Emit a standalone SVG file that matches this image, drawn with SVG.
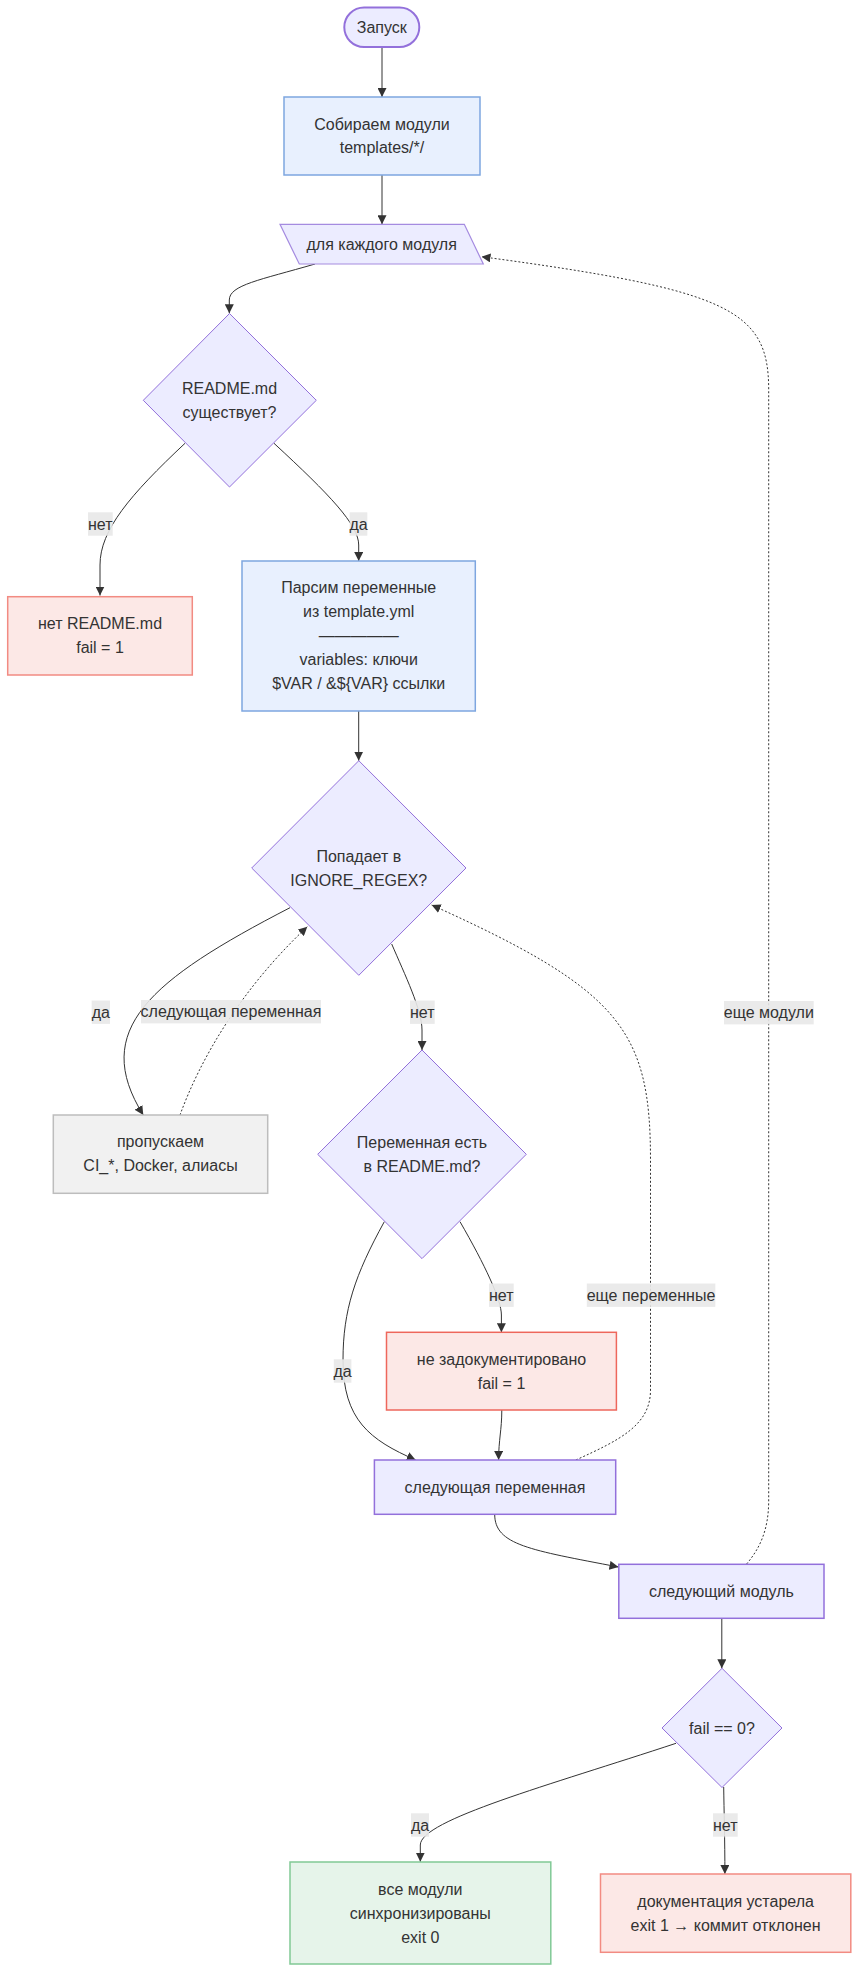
<svg xmlns="http://www.w3.org/2000/svg" width="858" height="1972" viewBox="0 0 858 1972">
<style>
text{font-family:"Liberation Sans",Arial,"Noto Sans",sans-serif;font-size:16px;fill:#333;text-anchor:middle;dominant-baseline:central}
.edge{fill:none;stroke:#333;stroke-width:1}
.dot{fill:none;stroke:#333;stroke-width:1;stroke-dasharray:2 2}
.lbl{fill:#e8e8e8;opacity:0.9}
.def{fill:#ECECFF;stroke:#9370DB;stroke-width:1.5}
.para{fill:#ECECFF;stroke:#A58BE0;stroke-width:1.2}
.dia{fill:#ECECFF;stroke:#9370DB;stroke-width:1}
.blue{fill:#E8F0FE;stroke:#7EA6E0;stroke-width:1.5}
.red{fill:#FCE8E6;stroke:#F28B82;stroke-width:1.5}
.red2{fill:#FCE8E6;stroke:#EE675C;stroke-width:1.5}
.gray{fill:#F1F1F1;stroke:#BDBDBD;stroke-width:1.5}
.green{fill:#E6F4EA;stroke:#81C995;stroke-width:1.5}
</style>
<defs>
<marker id="arr" viewBox="0 0 10 10" refX="10" refY="5" markerWidth="9" markerHeight="9" markerUnits="userSpaceOnUse" orient="auto">
<path d="M0,0 L10,5 L0,10 z" fill="#333"/>
</marker>
</defs>
<rect width="858" height="1972" fill="#fff"/>

<g id="edges">
<path class="edge" d="M382,47 L382,97" marker-end="url(#arr)"/>
<path class="edge" d="M382,175 L382,224.3" marker-end="url(#arr)"/>
<path class="edge" d="M315,264 C260,280 229.3,285 229.3,300 L229.3,313.3" marker-end="url(#arr)"/>
<path class="edge" d="M185,443.3 C130,495 100,530 100,565 L100,595.5" marker-end="url(#arr)"/>
<path class="edge" d="M274,443.3 C330,495 358.7,525 358.7,545 L358.7,561" marker-end="url(#arr)"/>
<path class="edge" d="M358.7,711 L358.7,760.7" marker-end="url(#arr)"/>
<path class="edge" d="M290,907.7 C150,980 90,1030 143.3,1115" marker-end="url(#arr)"/>
<path class="dot" d="M180,1115 C200,1060 240,990 307.3,926.7" marker-end="url(#arr)"/>
<path class="edge" d="M391.7,944 C405,975 422,1010 422,1030 L422,1050" marker-end="url(#arr)"/>
<path class="edge" d="M384.3,1221.7 C355,1275 343,1310 343,1360 C343,1420 370,1440 415.7,1460" marker-end="url(#arr)"/>
<path class="edge" d="M460,1221.7 C485,1265 501.4,1300 501.4,1315 L501.4,1332.3" marker-end="url(#arr)"/>
<path class="edge" d="M501.8,1410 C501.8,1430 498.6,1440 498.6,1460" marker-end="url(#arr)"/>
<path class="dot" d="M575.8,1460 C620,1440 650.5,1425 650.5,1390 L650.5,1160 C650.5,1030 620,990 431.7,905" marker-end="url(#arr)"/>
<path class="edge" d="M494.7,1514.3 C494.7,1545 530,1550 618.5,1567" marker-end="url(#arr)"/>
<path class="dot" d="M746.6,1564 C760,1548 768.7,1530 768.7,1500 L768.7,390 C768.7,310 730,290 481.5,256.7" marker-end="url(#arr)"/>
<path class="edge" d="M721.8,1618.3 L721.8,1668.3" marker-end="url(#arr)"/>
<path class="edge" d="M676,1743.3 C550,1785 420.3,1820 420.3,1845 L420.3,1861.7" marker-end="url(#arr)"/>
<path class="edge" d="M723.7,1787 C724,1810 724.9,1840 724.9,1874" marker-end="url(#arr)"/>
</g>

<g id="edge-labels">
<rect class="lbl" x="88" y="512.3" width="24.7" height="23.4"/><text x="100.3" y="524">нет</text>
<rect class="lbl" x="349.7" y="512.3" width="17.6" height="23.4"/><text x="358.5" y="524">да</text>
<rect class="lbl" x="91.7" y="1000.5" width="18.3" height="23.4"/><text x="100.8" y="1012.2">да</text>
<rect class="lbl" x="141" y="1000" width="180" height="23.4"/><text x="231" y="1011.7">следующая переменная</text>
<rect class="lbl" x="410" y="1000.5" width="24.7" height="23.4"/><text x="422.3" y="1012.2">нет</text>
<rect class="lbl" x="333.8" y="1359.3" width="17.6" height="23.4"/><text x="342.6" y="1371">да</text>
<rect class="lbl" x="489" y="1283.5" width="24.7" height="23.4"/><text x="501.3" y="1295.2">нет</text>
<rect class="lbl" x="586.8" y="1283.5" width="128.5" height="23.4"/><text x="651" y="1295.2">еще переменные</text>
<rect class="lbl" x="724" y="1001" width="89.7" height="23.4"/><text x="768.8" y="1012.7">еще модули</text>
<rect class="lbl" x="411" y="1813.3" width="18" height="23.4"/><text x="420" y="1825">да</text>
<rect class="lbl" x="713" y="1813.3" width="24.7" height="23.4"/><text x="725.3" y="1825">нет</text>
</g>

<g id="start">
<rect x="344.3" y="7.5" width="75" height="39.5" rx="19.75" ry="19.75" fill="#ECECFF" stroke="#9370DB" stroke-width="2"/>
<text x="381.8" y="27.2">Запуск</text>
</g>
<g id="collect">
<rect class="blue" x="284" y="97" width="196" height="78"/>
<text x="382" y="124">Собираем модули</text>
<text x="382" y="147.5">templates/*/</text>
</g>
<g id="foreach">
<polygon class="para" points="280,224.3 464.3,224.3 483.3,264 299.3,264"/>
<text x="381.7" y="244">для каждого модуля</text>
</g>
<g id="readme-exists">
<polygon class="dia" points="229.5,313.5 316.3,400.3 229.5,487 143.3,400.3"/>
<text x="229.5" y="388.3">README.md</text>
<text x="229.5" y="412.5">существует?</text>
</g>
<g id="no-readme">
<rect class="red" x="7.7" y="596.7" width="184.6" height="78.3"/>
<text x="100" y="623.5">нет README.md</text>
<text x="100" y="647.5">fail = 1</text>
</g>
<g id="parse">
<rect class="blue" x="242" y="561" width="233.3" height="150"/>
<text x="358.7" y="587.5">Парсим переменные</text>
<text x="358.7" y="611.5">из template.yml</text>
<text x="358.7" y="635.5">—————</text>
<text x="358.7" y="659.5">variables: ключи</text>
<text x="358.7" y="683.5">$VAR / &amp;${VAR} ссылки</text>
</g>
<g id="ignore">
<polygon class="dia" points="358.8,760.7 466,868 358.8,975.3 251.7,868"/>
<text x="358.8" y="856.7">Попадает в</text>
<text x="358.8" y="880.3">IGNORE_REGEX?</text>
</g>
<g id="skip">
<rect class="gray" x="53.3" y="1115" width="214.4" height="78.3"/>
<text x="160.5" y="1141.7">пропускаем</text>
<text x="160.5" y="1165.5">CI_*, Docker, алиасы</text>
</g>
<g id="in-readme">
<polygon class="dia" points="422,1050 526.3,1154.3 422,1258.6 317.7,1154.3"/>
<text x="422" y="1142">Переменная есть</text>
<text x="422" y="1166">в README.md?</text>
</g>
<g id="undocumented">
<rect class="red2" x="386.5" y="1332.3" width="229.9" height="77.7"/>
<text x="501.5" y="1359">не задокументировано</text>
<text x="501.5" y="1383">fail = 1</text>
</g>
<g id="next-var">
<rect class="def" x="374.4" y="1460" width="241.3" height="54.3"/>
<text x="495" y="1487">следующая переменная</text>
</g>
<g id="next-module">
<rect class="def" x="618.8" y="1564.3" width="205.2" height="54"/>
<text x="721.4" y="1591">следующий модуль</text>
</g>
<g id="fail-check">
<polygon class="dia" points="722,1668.3 782,1728 722,1787.5 662,1728"/>
<text x="722" y="1728">fail == 0?</text>
</g>
<g id="ok">
<rect class="green" x="290" y="1862" width="260.8" height="102"/>
<text x="420.3" y="1889">все модули</text>
<text x="420.3" y="1913">синхронизированы</text>
<text x="420.3" y="1937">exit 0</text>
</g>
<g id="outdated">
<rect class="red" x="600.5" y="1874" width="250.3" height="78.3"/>
<text x="725.6" y="1901">документация устарела</text>
<text x="725.6" y="1925">exit 1 → коммит отклонен</text>
</g>
</svg>
